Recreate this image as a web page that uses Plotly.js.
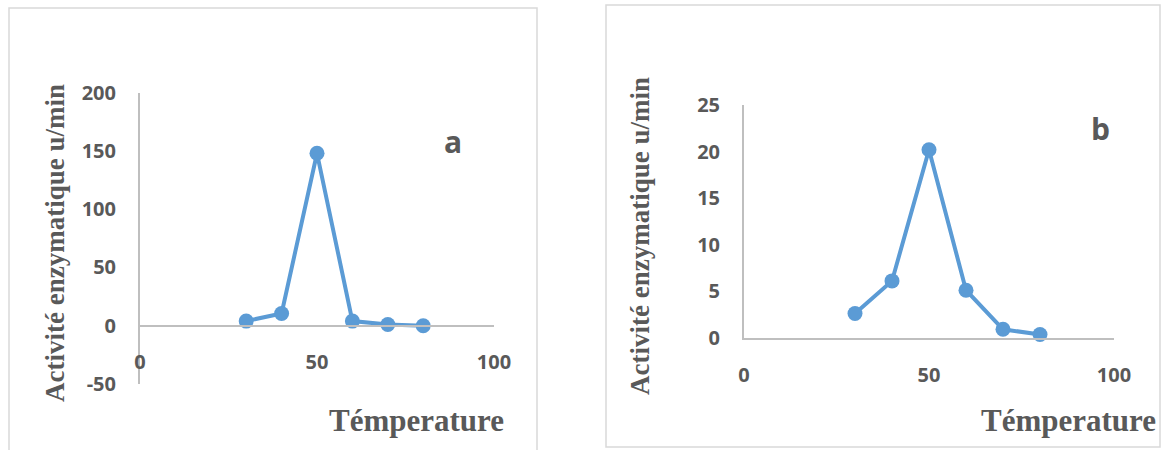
<!DOCTYPE html>
<html>
<head>
<meta charset="utf-8">
<script src="https://cdn.plot.ly/plotly-3.0.1.min.js"></script>
<style>
  html, body { margin: 0; padding: 0; background: #fff; }
  #chart { width: 1163px; height: 450px; }
</style>
</head>
<body>
<div id="chart"></div>
<script>
// Temperature points shared by both panels
const temperature = [30, 40, 50, 60, 70, 80];
// Enzymatic activity (u/min), panel a and panel b
const activityA = [4, 10.5, 148, 4, 1, 0];
const activityB = [2.6, 6.1, 20.2, 5.1, 0.9, 0.35];

// Tick values and their labels
const xTicks = [0, 50, 100];
const yTicksA = [-50, 0, 50, 100, 150, 200];
const yTickTextA = ['-50', '0', '50', '100', '150', '200'];
const yTicksB = [0, 5, 10, 15, 20, 25];

const panelLabels = ['a', 'b'];
const xTitle = 'Témperature';
const yTitle = 'Activité enzymatique u/min';

const W = 1163, H = 450;
const px = v => v / W;
const py = v => 1 - v / H;

const blue = '#5B9BD5';
const grey = '#595959';
const axisGrey = '#bfbfbf';
const tickFont = { family: 'Open Sans', size: 20, color: grey, weight: 'bold' };
const serifFont = { family: 'Liberation Serif', color: grey, weight: 'bold' };

function series(y, xa, ya) {
  return {
    x: temperature, y: y, xaxis: xa, yaxis: ya,
    type: 'scatter', mode: 'lines+markers',
    line: { color: blue, width: 4 },
    marker: { color: blue, size: 15 },
    cliponaxis: false, hoverinfo: 'x+y'
  };
}

const baseAxis = {
  showgrid: false, zeroline: false, showline: true,
  linecolor: axisGrey, linewidth: 2, ticks: '',
  tickfont: tickFont, fixedrange: true
};

const layout = {
  width: W, height: H,
  margin: { l: 0, r: 0, t: 0, b: 0 },
  paper_bgcolor: '#ffffff', plot_bgcolor: 'rgba(0,0,0,0)',
  showlegend: false,
  xaxis: Object.assign({}, baseAxis, {
    domain: [px(140), px(494)], range: [0, 100],
    anchor: 'free', position: py(325.7),
    tickmode: 'array', tickvals: xTicks, ticklabelstandoff: 18
  }),
  yaxis: Object.assign({}, baseAxis, {
    domain: [py(384), py(92.7)], range: [-50, 200], anchor: 'x',
    tickmode: 'array', tickvals: yTicksA, ticktext: yTickTextA,
    ticklabelstandoff: 18
  }),
  xaxis2: Object.assign({}, baseAxis, {
    domain: [px(744), px(1114)], range: [0, 100], anchor: 'y2',
    tickmode: 'array', tickvals: xTicks, ticklabelstandoff: 18
  }),
  yaxis2: Object.assign({}, baseAxis, {
    domain: [py(337.7), py(105)], range: [0, 25], anchor: 'x2',
    tickmode: 'array', tickvals: yTicksB, ticklabelstandoff: 18
  }),
  shapes: [
    { type: 'rect', xref: 'paper', yref: 'paper',
      x0: px(9), x1: px(537), y0: py(470), y1: py(8),
      line: { color: '#d9d9d9', width: 1.5 }, fillcolor: 'rgba(0,0,0,0)' },
    { type: 'rect', xref: 'paper', yref: 'paper',
      x0: px(606), x1: px(1160), y0: py(447), y1: py(5),
      line: { color: '#d9d9d9', width: 1.5 }, fillcolor: 'rgba(0,0,0,0)' }
  ],
  annotations: [
    { text: yTitle, xref: 'paper', yref: 'paper', x: px(55), y: py(243),
      textangle: -90, showarrow: false, xanchor: 'center', yanchor: 'middle',
      font: Object.assign({ size: 27 }, serifFont) },
    { text: yTitle, xref: 'paper', yref: 'paper', x: px(640), y: py(236),
      textangle: -90, showarrow: false, xanchor: 'center', yanchor: 'middle',
      font: Object.assign({ size: 27 }, serifFont) },
    { text: xTitle, xref: 'paper', yref: 'paper', x: px(416), y: py(420),
      showarrow: false, xanchor: 'center', yanchor: 'middle',
      font: Object.assign({ size: 31 }, serifFont) },
    { text: xTitle, xref: 'paper', yref: 'paper', x: px(1068), y: py(420),
      showarrow: false, xanchor: 'center', yanchor: 'middle',
      font: Object.assign({ size: 31 }, serifFont) },
    { text: panelLabels[0], xref: 'paper', yref: 'paper', x: px(453), y: py(141),
      showarrow: false, xanchor: 'center', yanchor: 'middle',
      font: { family: 'Open Sans', size: 30, color: grey, weight: 'bold' } },
    { text: panelLabels[1], xref: 'paper', yref: 'paper', x: px(1100), y: py(128),
      showarrow: false, xanchor: 'center', yanchor: 'middle',
      font: { family: 'Open Sans', size: 30, color: grey, weight: 'bold' } }
  ]
};

Plotly.newPlot('chart',
  [series(activityA, 'x', 'y'), series(activityB, 'x2', 'y2')],
  layout, { staticPlot: true, displayModeBar: false });
</script>
</body>
</html>
